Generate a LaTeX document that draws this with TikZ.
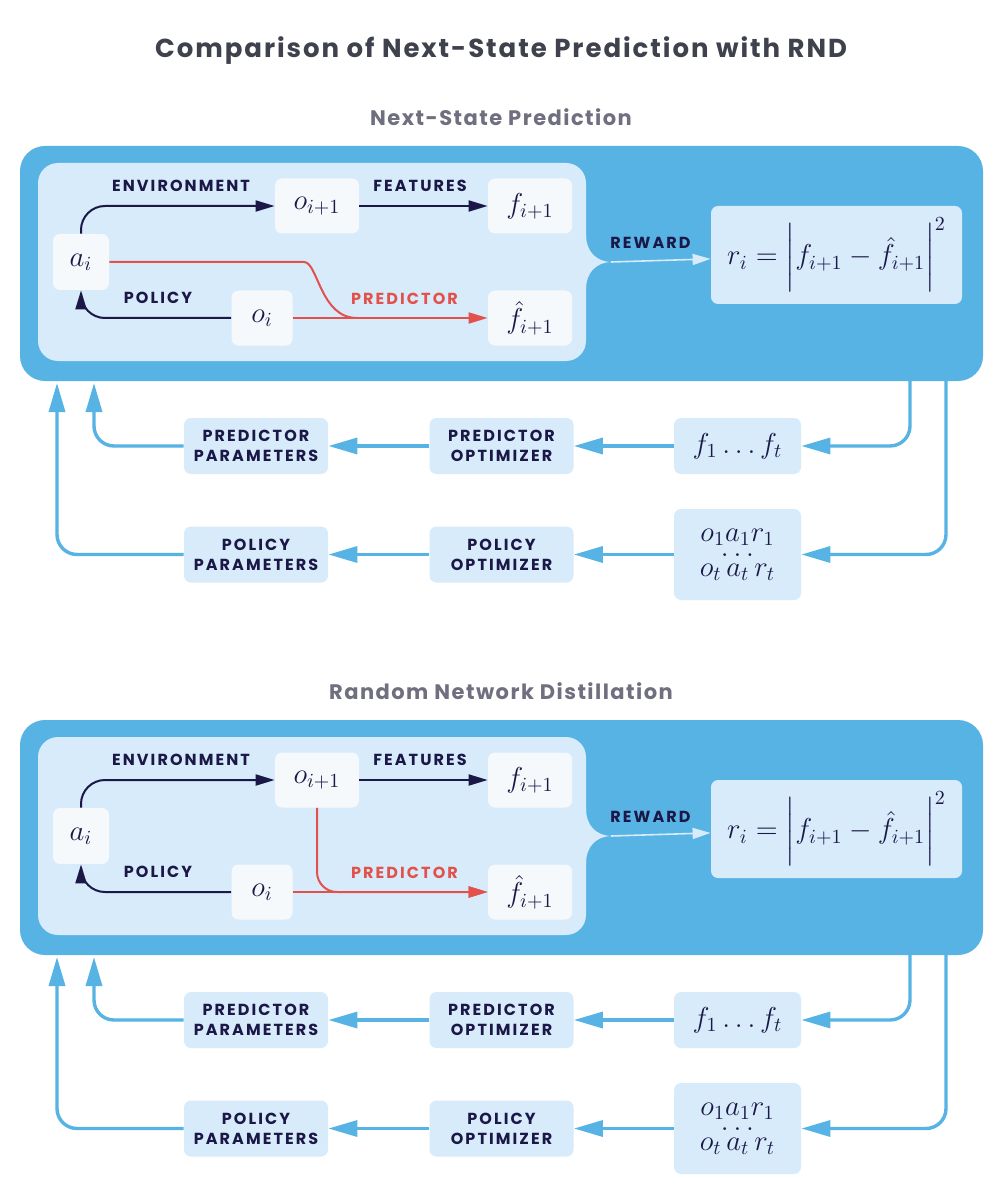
\documentclass[tikz,border=0pt]{standalone}
\usepackage[no-math]{fontspec}
\setmainfont{Poppins}
\usepackage{amsmath}
\usepackage{tikz}
\usetikzlibrary{positioning,arrows.meta,calc}

\definecolor{skyblue}{HTML}{56B3E3}
\definecolor{paleblue}{HTML}{D7EBFB}
\definecolor{boxwhite}{HTML}{F5F9FC}
\definecolor{navy}{HTML}{1B1847}
\definecolor{predred}{HTML}{E2514C}
\definecolor{titlegray}{HTML}{3F414D}
\definecolor{subgray}{HTML}{6F6F7F}

\newfontfamily\capsfont[LetterSpace=13]{Poppins}
\newfontfamily\titlefont[LetterSpace=7.5]{Poppins}
\newfontfamily\headfont[LetterSpace=7]{Poppins}
\newcommand{\caps}{\capsfont\bfseries\fontsize{8}{10}\selectfont}
\newcommand{\mathsize}{\fontsize{14.5}{17.5}\selectfont}

\tikzstyle{flow}=[draw=navy, line width=1pt, -{Triangle[length=9.5pt,width=5.5pt]}, rounded corners=12pt]
\tikzstyle{pred}=[flow, draw=predred]
\tikzstyle{feedback}=[draw=skyblue, line width=1.7pt, -{Triangle[length=14.5pt,width=8pt]}, rounded corners=10pt]
\tikzstyle{rewardline}=[draw=paleblue, line width=0.8pt, -{Triangle[length=9pt,width=5.5pt]}]
\tikzstyle{statebox}=[rectangle, rounded corners=3.5pt, fill=boxwhite, text=navy, font=\mathsize, inner sep=0pt, minimum height=27.5pt]
\tikzstyle{optbox}=[rectangle, rounded corners=3.5pt, fill=paleblue, text=navy, font=\caps, align=center, inner sep=0pt, minimum width=72pt, minimum height=28pt]
\tikzstyle{seqbox}=[optbox, font=\mathsize, minimum width=63.5pt]
\tikzstyle{caption}=[text=navy, font=\caps, inner sep=0pt]

\begin{document}
\begin{tikzpicture}[x=0.5pt, y=-0.5pt]

    \path[use as bounding box, fill=white] (0,0) rectangle (1002,1192);

    % title
    \node[font=\titlefont\bfseries\fontsize{13}{15}\selectfont, text=titlegray] (title) at (501,51) {Comparison of Next-State Prediction with RND};

    \foreach \p/\dy/\name in {a/0/Next-State Prediction, b/574/Random Network Distillation} {

        % heading
        \node[font=\headfont\bfseries\fontsize{10.5}{12}\selectfont, text=subgray] (head\p) at (501,117+\dy) {\name};

        % panels
        \node[fill=skyblue, rounded corners=12.5pt, inner sep=0pt, minimum width=481.5pt, minimum height=117.5pt] (outer\p) at (501.5,263.5+\dy) {};
        \node[fill=paleblue, rounded corners=10pt, inner sep=0pt, minimum width=274pt, minimum height=99pt] (inner\p) at (312,262+\dy) {};
        \fill[paleblue] (584,235+\dy) -- (586,235+\dy) .. controls (586,251+\dy) and (596,262+\dy) .. (612,262+\dy)
            .. controls (596,262+\dy) and (586,273+\dy) .. (586,289+\dy) -- (584,289+\dy) -- cycle;
        \coordinate (fork\p) at (611,262+\dy);

        % state nodes
        \node[statebox, minimum width=28pt, minimum height=28pt] (ai\p) at (81,262+\dy) {$a_i$};
        \node[statebox, minimum width=42pt] (onext\p) at (317,206+\dy) {$o_{i+1}$};
        \node[statebox, minimum width=42pt] (fnext\p) at (530,206+\dy) {$f_{i+1}$};
        \node[statebox, minimum width=30.5pt] (oi\p) at (262,318+\dy) {$o_i$};
        \node[statebox, minimum width=42pt] (fhat\p) at (530,318+\dy) {$\hat{f}_{i+1}$};
        \node[optbox, font=\mathsize, minimum width=125.5pt, minimum height=49pt] (rwd\p) at (836.5,255+\dy) {$r_i=\bigg|f_{i+1}-\hat{f}_{i+1}\bigg|^2$};

        % labels
        \node[caption] (envlbl\p) at (181,186+\dy) {ENVIRONMENT};
        \node[caption] (featlbl\p) at (420,186+\dy) {FEATURES};
        \node[caption] (pollbl\p) at (158,298+\dy) {POLICY};
        \node[caption, text=predred] (predlbl\p) at (404.5,299+\dy) {PREDICTOR};
        \node[caption] (rwdlbl\p) at (650.5,242.5+\dy) {REWARD};

        % arrows
        \draw[flow] (ai\p) |- (onext\p);
        \draw[flow] (onext\p) -- (fnext\p);
        \draw[flow] (oi\p) -| (ai\p);
        \draw[pred] (oi\p) -- (fhat\p);
        \draw[rewardline] (fork\p) -- (rwd\p);

        % optimisation loop
        \node[optbox] (ppar\p) at (256,446+\dy) {PREDICTOR\\PARAMETERS};
        \node[optbox] (popt\p) at (501.5,446+\dy) {PREDICTOR\\OPTIMIZER};
        \node[seqbox] (fseq\p) at (737.5,446+\dy) {$f_1\ldots f_t$};
        \node[optbox] (polpar\p) at (256,554.5+\dy) {POLICY\\PARAMETERS};
        \node[optbox] (polopt\p) at (501.5,554.5+\dy) {POLICY\\OPTIMIZER};
        \node[seqbox, minimum height=45.5pt] (oseq\p) at (737.5,554.5+\dy) {$o_1a_1r_1$\\[-10pt]$\ldots$\\[-7.5pt]$o_t\,a_t\,r_t$};

        \coordinate (tapf\p) at (910,381+\dy);
        \coordinate (tapo\p) at (946,381+\dy);
        \coordinate (upf\p) at (94,383+\dy);
        \coordinate (upo\p) at (57,383+\dy);

        \draw[feedback] (tapf\p) |- (fseq\p);
        \draw[feedback] (fseq\p) -- (popt\p);
        \draw[feedback] (popt\p) -- (ppar\p);
        \draw[feedback] (ppar\p) -| (upf\p);
        \draw[feedback] (tapo\p) |- (oseq\p);
        \draw[feedback] (oseq\p) -- (polopt\p);
        \draw[feedback] (polopt\p) -- (polpar\p);
        \draw[feedback] (polpar\p) -| (upo\p);
    }

    % predictor inputs
    \coordinate (merge) at (357,318);
    \draw[pred, -] (aia.east) -- (280,262) .. controls (318,262) and (320,318) .. (merge);
    \draw[pred, rounded corners=10pt] (onextb) |- (fhatb);

\end{tikzpicture}
\end{document}
